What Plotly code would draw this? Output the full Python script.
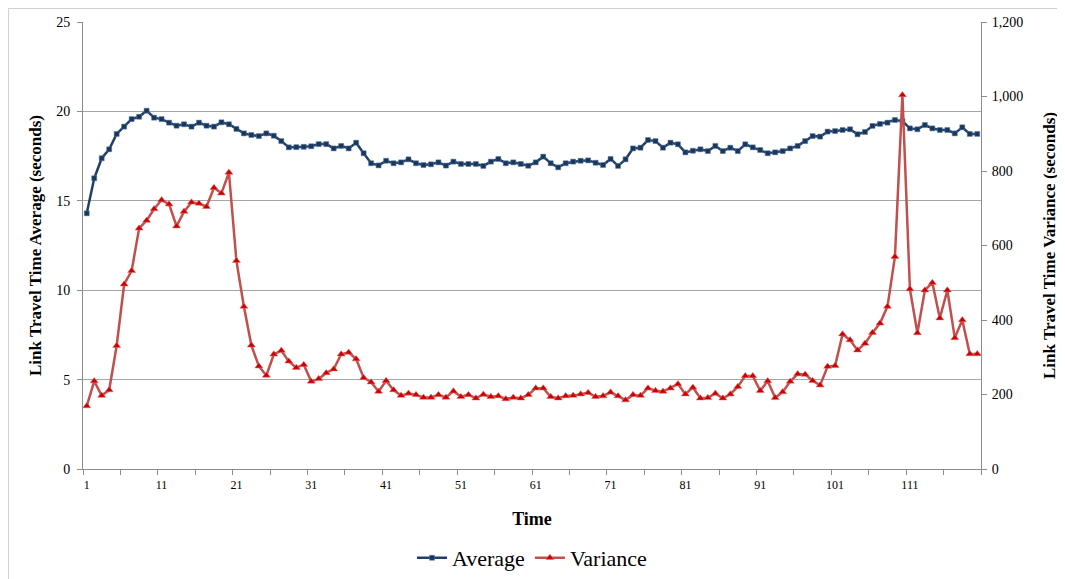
import plotly.graph_objects as go

time = list(range(1, 121))

average = [
    14.30, 16.26, 17.38, 17.88, 18.74, 19.15, 19.57, 19.70, 20.04, 19.65,
    19.57, 19.37, 19.20, 19.28, 19.15, 19.37, 19.20, 19.15, 19.39, 19.28,
    19.02, 18.77, 18.68, 18.62, 18.77, 18.64, 18.34, 17.99, 18.00, 18.02,
    18.05, 18.17, 18.17, 17.93, 18.07, 17.93, 18.25, 17.66, 17.10, 16.98,
    17.24, 17.10, 17.15, 17.32, 17.10, 17.00, 17.04, 17.15, 16.97, 17.19,
    17.06, 17.06, 17.06, 16.95, 17.19, 17.34, 17.10, 17.15, 17.06, 16.96,
    17.15, 17.47, 17.10, 16.87, 17.10, 17.19, 17.24, 17.26, 17.13, 17.00,
    17.34, 16.95, 17.32, 17.93, 17.97, 18.40, 18.34, 17.97, 18.25, 18.16,
    17.71, 17.80, 17.88, 17.78, 18.07, 17.78, 17.97, 17.78, 18.16, 17.99,
    17.84, 17.66, 17.71, 17.78, 17.93, 18.07, 18.34, 18.62, 18.59, 18.87,
    18.90, 18.96, 19.00, 18.72, 18.85, 19.19, 19.30, 19.37, 19.52, 19.46,
    19.05, 19.00, 19.24, 19.05, 18.96, 18.96, 18.77, 19.11, 18.74, 18.74,
]

variance = [
    169, 236, 197, 212, 331, 496, 532, 646, 667, 698,
    722, 711, 652, 691, 716, 713, 704, 755, 740, 796,
    559, 436, 332, 276, 251, 308, 318, 289, 272, 280,
    235, 242, 258, 268, 308, 313, 295, 245, 233, 208,
    237, 212, 197, 203, 199, 192, 192, 199, 192, 209,
    194, 199, 190, 200, 194, 196, 188, 192, 190, 199,
    217, 217, 194, 190, 196, 197, 201, 205, 194, 196,
    206, 196, 185, 199, 197, 217, 210, 208, 217, 228,
    201, 219, 190, 191, 203, 190, 201, 221, 250, 250,
    210, 236, 191, 207, 235, 255, 254, 237, 225, 275,
    277, 362, 346, 319, 337, 366, 391, 436, 570, 1004,
    483, 365, 480, 500, 405, 480, 352, 400, 309, 309,
]

x_label_vals = list(range(1, 121, 10))
x_minor_vals = [0.5 + 5 * k for k in range(25)]

FONT = "Liberation Serif, Times New Roman, serif"
AXIS_COLOR = "#8c8c8c"

fig = go.Figure()
fig.add_trace(go.Scatter(
    x=time, y=average, name="Average", mode="lines+markers",
    line=dict(color="#1F3F66", width=2.5),
    marker=dict(symbol="square", size=5, color="#17375E",
                line=dict(color="#5F7A9E", width=0.5)),
    yaxis="y",
))
fig.add_trace(go.Scatter(
    x=time, y=variance, name="Variance", mode="lines+markers",
    line=dict(color="#C0504D", width=2.5),
    marker=dict(symbol="triangle-up", size=7, color="#CC0000",
                line=dict(color="#E07070", width=0.5)),
    yaxis="y2",
))

fig.update_layout(
    width=1057, height=571,
    margin=dict(l=75, r=84, t=14, b=110, autoexpand=False),
    paper_bgcolor="white", plot_bgcolor="white",
    font=dict(family=FONT, color="black", size=14),
    showlegend=True,
    legend=dict(orientation="h", x=0.5, xanchor="center", y=-0.199, yanchor="middle",
                font=dict(size=22, family=FONT), itemwidth=30, tracegroupgap=0),
    xaxis=dict(
        range=[0.5, 120.5], tickmode="array", tickvals=x_label_vals,
        ticktext=[str(v) for v in x_label_vals],
        ticks="outside", ticklen=5, tickcolor="rgba(0,0,0,0)",
        tickfont=dict(size=12, family=FONT),
        showgrid=False, zeroline=False,
        showline=True, linecolor=AXIS_COLOR, linewidth=1,
        minor=dict(tickmode="array", tickvals=x_minor_vals, ticks="outside",
                   ticklen=5, tickcolor=AXIS_COLOR, showgrid=False),
        title=dict(text="<b>Time</b>", font=dict(size=18, family=FONT), standoff=20),
    ),
    yaxis=dict(
        range=[0, 25], tickmode="linear", tick0=0, dtick=5,
        ticks="outside", ticklen=5, tickcolor=AXIS_COLOR,
        tickfont=dict(size=14, family=FONT), ticklabelstandoff=4,
        showgrid=True, gridcolor="#a6a6a6", gridwidth=1, zeroline=False,
        showline=True, linecolor=AXIS_COLOR, linewidth=1,
        title=dict(text="<b>Link Travel Time Average (seconds)</b>",
                   font=dict(size=17, family=FONT), standoff=10),
    ),
    yaxis2=dict(
        range=[0, 1200], tickmode="linear", tick0=0, dtick=200, tickformat=",",
        overlaying="y", side="right",
        ticks="outside", ticklen=5, tickcolor=AXIS_COLOR,
        tickfont=dict(size=14, family=FONT), ticklabelstandoff=2,
        showgrid=False, zeroline=False,
        showline=True, linecolor=AXIS_COLOR, linewidth=1,
        title=dict(text="<b>Link Travel Time Variance (seconds)</b>",
                   font=dict(size=17, family=FONT), standoff=20),
    ),
    shapes=[dict(type="rect", xref="paper", yref="paper",
                 x0=-0.0830, x1=1.2, y0=-0.4, y1=1.0302,
                 line=dict(color="#d0d0d0", width=1), fillcolor="rgba(0,0,0,0)",
                 layer="below")],
)

fig.write_html("out.html")
